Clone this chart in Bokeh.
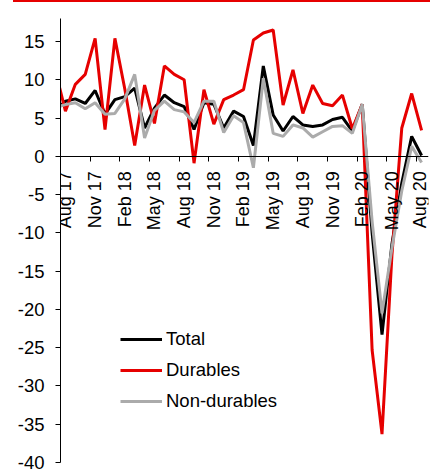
import math
from bokeh.plotting import figure
from bokeh.layouts import column
from bokeh.models import FixedTicker, Legend, LegendItem, Div
from bokeh.embed import file_html
from bokeh.resources import INLINE

months = ["Jul 17", "Aug 17", "Sep 17", "Oct 17", "Nov 17", "Dec 17",
          "Jan 18", "Feb 18", "Mar 18", "Apr 18", "May 18", "Jun 18",
          "Jul 18", "Aug 18", "Sep 18", "Oct 18", "Nov 18", "Dec 18",
          "Jan 19", "Feb 19", "Mar 19", "Apr 19", "May 19", "Jun 19",
          "Jul 19", "Aug 19", "Sep 19", "Oct 19", "Nov 19", "Dec 19",
          "Jan 20", "Feb 20", "Mar 20", "Apr 20", "May 20", "Jun 20",
          "Jul 20", "Aug 20"]

total = [6.0, 7.2, 7.5, 6.9, 8.6, 5.5, 7.4, 7.8, 8.9, 3.7, 6.3, 8.0, 7.0,
         6.5, 3.5, 7.0, 6.8, 3.7, 5.9, 5.2, 1.4, 11.8, 5.4, 3.3, 5.2, 4.1,
         3.9, 4.1, 4.8, 5.1, 3.3, 6.8, -10.0, -23.3, -11.5, -3.5, 2.6, 0.1]

durables = [11.1, 5.9, 9.4, 10.7, 15.4, 3.5, 15.4, 8.8, 1.4, 9.3, 4.3, 11.8,
            10.7, 10.0, -0.9, 8.7, 4.2, 7.4, 8.0, 8.7, 15.2, 16.1, 16.5, 6.7,
            11.3, 5.6, 9.3, 6.9, 6.6, 8.0, 3.6, 6.8, -25.3, -36.3, -13.0,
            3.7, 8.2, 3.4]

non_durables = [6.4, 6.75, 7.0, 6.2, 7.0, 5.5, 5.6, 7.5, 10.7, 2.4, 6.0, 7.2,
                6.1, 5.8, 4.4, 7.2, 7.2, 3.1, 5.3, 4.4, -1.5, 10.2, 3.0, 2.6,
                4.1, 3.7, 2.5, 3.2, 3.9, 4.0, 3.0, 6.8, -8.5, -20.5, -12.0,
                -4.5, 1.3, -0.8]

tick_labels = ["Aug 17", "Nov 17", "Feb 18", "May 18", "Aug 18", "Nov 18",
               "Feb 19", "May 19", "Aug 19", "Nov 19", "Feb 20", "May 20",
               "Aug 20"]

y_ticks = [-40, -35, -30, -25, -20, -15, -10, -5, 0, 5, 10, 15]
y_labels = ["-40", "-35", "-30", "-25", "-20", "-15", "-10", "-5", "0", "5", "10", "15"]

FONT = "Liberation Sans"
FS = "18.5px"

x = [i - 1 for i in range(len(months))]

p = figure(width=430, height=471, x_range=(-0.5, 36.7), y_range=(-40, 18),
           output_backend="svg", toolbar_location=None,
           min_border_left=60, min_border_right=2, min_border_top=16,
           min_border_bottom=11)
p.xgrid.visible = False
p.ygrid.visible = False
p.outline_line_color = None
p.background_fill_color = "white"

r_total = p.line(x, total, line_color="black", line_width=3)
r_dur = p.line(x, durables, line_color="#E60000", line_width=3)
r_non = p.line(x, non_durables, line_color="#ABABAB", line_width=3)

major = [months.index(l) - 1 for l in tick_labels]
minor = [t - 0.5 for t in major]

xa = p.xaxis[0]
xa.fixed_location = 0
xa.ticker = FixedTicker(ticks=major, minor_ticks=minor)
xa.major_label_overrides = {t: l for t, l in zip(major, tick_labels)}
xa.major_tick_out = 0
xa.major_tick_in = 0
xa.minor_tick_out = 5
xa.minor_tick_in = 0
xa.minor_tick_line_color = "black"
xa.major_label_orientation = math.pi / 2
xa.major_label_standoff = 10
xa.major_label_text_font = FONT
xa.major_label_text_font_size = "18px"
xa.major_label_text_color = "black"
xa.axis_line_color = "black"

ya = p.yaxis[0]
ya.ticker = FixedTicker(ticks=y_ticks, minor_ticks=[])
ya.major_label_overrides = {t: l for t, l in zip(y_ticks, y_labels)}
ya.major_tick_out = 5
ya.major_tick_in = 0
ya.minor_tick_out = 0
ya.minor_tick_in = 0
ya.major_label_standoff = 11
ya.major_label_text_font = FONT
ya.major_label_text_font_size = FS
ya.major_label_text_color = "black"
ya.axis_line_color = "black"

legend = Legend(items=[LegendItem(label="Total", renderers=[r_total]),
                       LegendItem(label="Durables", renderers=[r_dur]),
                       LegendItem(label="Non-durables", renderers=[r_non])],
                location=(60, 50), orientation="vertical",
                border_line_color=None, background_fill_alpha=0,
                padding=0, margin=0, spacing=9, glyph_width=42,
                glyph_height=20, label_height=20, label_standoff=4,
                label_text_font=FONT, label_text_font_size=FS,
                label_text_color="black")
p.add_layout(legend, "center")

top_bar = Div(text="", width=417, height=2, margin=(0, 0, 0, 13),
              styles={"background-color": "#E60000"})

layout = column(top_bar, p, spacing=0)

open("out.html", "w").write(file_html(layout, INLINE))
